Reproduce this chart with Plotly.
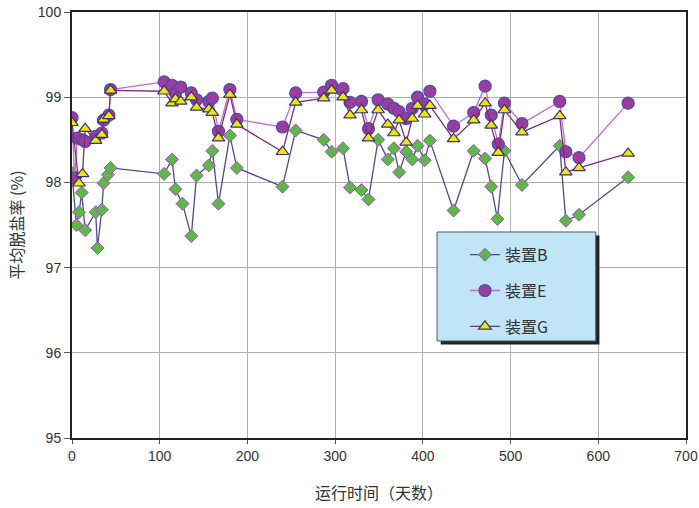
import plotly.graph_objects as go

# ---- data ----
b_days = [0, 5, 8, 11, 15, 27, 29, 34, 36, 41, 44, 105, 114, 118, 126, 136, 142, 156, 160, 167,
          180, 188, 240, 255, 287, 296, 309, 317, 330, 338, 349, 360, 367, 373, 381, 388, 394, 402, 408, 435,
          458, 471, 478, 485, 493, 513, 556, 563, 578, 634]
b_rate = [98.11, 97.5, 97.65, 97.88, 97.44, 97.65, 97.23, 97.68, 97.99, 98.09, 98.17, 98.1, 98.27, 97.92, 97.75, 97.37, 98.08, 98.2, 98.37, 97.75,
          98.55, 98.17, 97.95, 98.61, 98.5, 98.36, 98.4, 97.94, 97.91, 97.8, 98.5, 98.27, 98.4, 98.12, 98.36, 98.27, 98.43, 98.26, 98.49, 97.67,
          98.37, 98.28, 97.95, 97.57, 98.37, 97.97, 98.43, 97.55, 97.62, 98.06]

e_days = [0, 3, 6, 12, 15, 27, 34, 36, 42, 44, 105, 114, 118, 124, 136, 142, 156, 160, 167, 180,
          188, 240, 255, 287, 296, 309, 317, 330, 338, 349, 360, 367, 373, 381, 388, 394, 402, 408, 435, 458,
          471, 478, 486, 493, 513, 556, 563, 578, 634]
e_rate = [98.76, 98.05, 98.52, 98.5, 98.48, 98.54, 98.58, 98.73, 98.79, 99.09, 99.18, 99.14, 99.05, 99.12, 99.05, 98.97, 98.95, 98.99, 98.6, 99.09,
          98.74, 98.65, 99.05, 99.06, 99.14, 99.1, 98.94, 98.95, 98.63, 98.97, 98.92, 98.87, 98.83, 98.75, 98.87, 99.0, 98.92, 99.07, 98.66, 98.82,
          99.13, 98.79, 98.45, 98.93, 98.69, 98.95, 98.36, 98.29, 98.93]

g_days = [0, 8, 12, 15, 27, 34, 36, 42, 44, 105, 114, 118, 124, 136, 142, 156, 160, 167, 180,
          188, 240, 255, 287, 296, 309, 317, 330, 338, 349, 360, 367, 373, 381, 388, 394, 402, 408, 435, 458,
          471, 478, 486, 493, 513, 556, 563, 578, 634]
g_rate = [98.7, 97.99, 98.1, 98.63, 98.49, 98.56, 98.74, 98.78, 99.08, 99.07, 98.93, 98.98, 98.95, 99.0, 98.88, 98.86, 98.82, 98.52, 99.03,
          98.68, 98.36, 98.94, 98.99, 99.08, 99.0, 98.79, 98.85, 98.52, 98.85, 98.68, 98.58, 98.73, 98.47, 98.75, 98.9, 98.8, 98.9, 98.51, 98.73,
          98.93, 98.67, 98.35, 98.85, 98.59, 98.78, 98.12, 98.17, 98.34]

series_names = ["装置B", "装置E", "装置G"]
x_ticks = [0, 100, 200, 300, 400, 500, 600, 700]
y_ticks = [95, 96, 97, 98, 99, 100]

CJK = "Noto Sans CJK SC"
NUM = "Liberation Sans Narrow, Liberation Sans"

fig = go.Figure()
fig.add_trace(go.Scatter(
    x=b_days, y=b_rate, name=series_names[0], mode="lines+markers", legendgroup="b",
    line=dict(color="#4b4b8f", width=1.3),
    marker=dict(symbol="diamond", size=10, color="#5cb848", line=dict(color="#a050b0", width=1)),
))
fig.add_trace(go.Scatter(
    x=e_days, y=e_rate, name=series_names[1], mode="lines+markers", legendgroup="e",
    line=dict(color="#c46cc4", width=1.3),
    marker=dict(symbol="circle", size=12, color="#9c3c9c", line=dict(color="#4a4ab0", width=1.2)),
))
fig.add_trace(go.Scatter(
    x=g_days, y=g_rate, name=series_names[2], mode="lines+markers", legendgroup="g",
    line=dict(color="#7a2f7a", width=1.3),
    marker=dict(symbol="triangle-up", size=11, color="#f2e600", line=dict(color="#34347a", width=1.2)),
))

# legend box with shadow
bx0, bx1, by0, by1 = 0.5945, 0.853, 0.2277, 0.4836
fig.add_shape(type="rect", xref="paper", yref="paper",
              x0=bx0 + 0.006, x1=bx1 + 0.006, y0=by0 - 0.008, y1=by1 - 0.008,
              fillcolor="#222222", line=dict(width=0), layer="above")
fig.add_shape(type="rect", xref="paper", yref="paper",
              x0=bx0, x1=bx1, y0=by0, y1=by1,
              fillcolor="#bfe5f7", line=dict(color="#555555", width=1), layer="above")

fig.update_layout(
    width=699, height=508,
    margin=dict(l=72, r=13, t=12, b=70, autoexpand=False),
    paper_bgcolor="white", plot_bgcolor="white",
    font=dict(family=NUM, size=14, color="#333333"),
    showlegend=True,
    legend=dict(
        x=0.64, y=0.47, xanchor="left", yanchor="top",
        bgcolor="rgba(0,0,0,0)", borderwidth=0,
        font=dict(family=CJK, size=16, color="#333333"),
        tracegroupgap=12, traceorder="grouped",
    ),
    xaxis=dict(
        range=[0, 700], tickvals=x_ticks, ticktext=[str(v) for v in x_ticks],
        showgrid=True, gridcolor="#b0b0b0", gridwidth=1,
        showline=True, linecolor="#222222", linewidth=2, mirror=True,
        ticks="outside", ticklen=4, tickcolor="#555555",
        zeroline=False, automargin=False, ticklabeloverflow="allow",
        title=dict(text="运行时间（天数）", font=dict(family=CJK, size=16, color="#333333"), standoff=25),
    ),
    yaxis=dict(
        range=[95, 100], tickvals=y_ticks, ticktext=[str(v) for v in y_ticks],
        showgrid=True, gridcolor="#b0b0b0", gridwidth=1,
        showline=True, linecolor="#222222", linewidth=2, mirror=True,
        ticks="outside", ticklen=6, tickcolor="#555555",
        zeroline=False, automargin=False, ticklabeloverflow="allow",
        title=dict(text="平均脱盐率 (%)", font=dict(family=CJK, size=16, color="#333333"), standoff=10),
    ),
)

fig.write_html("out.html", config={"displayModeBar": False},
               post_script="document.body.style.margin='0px';")
